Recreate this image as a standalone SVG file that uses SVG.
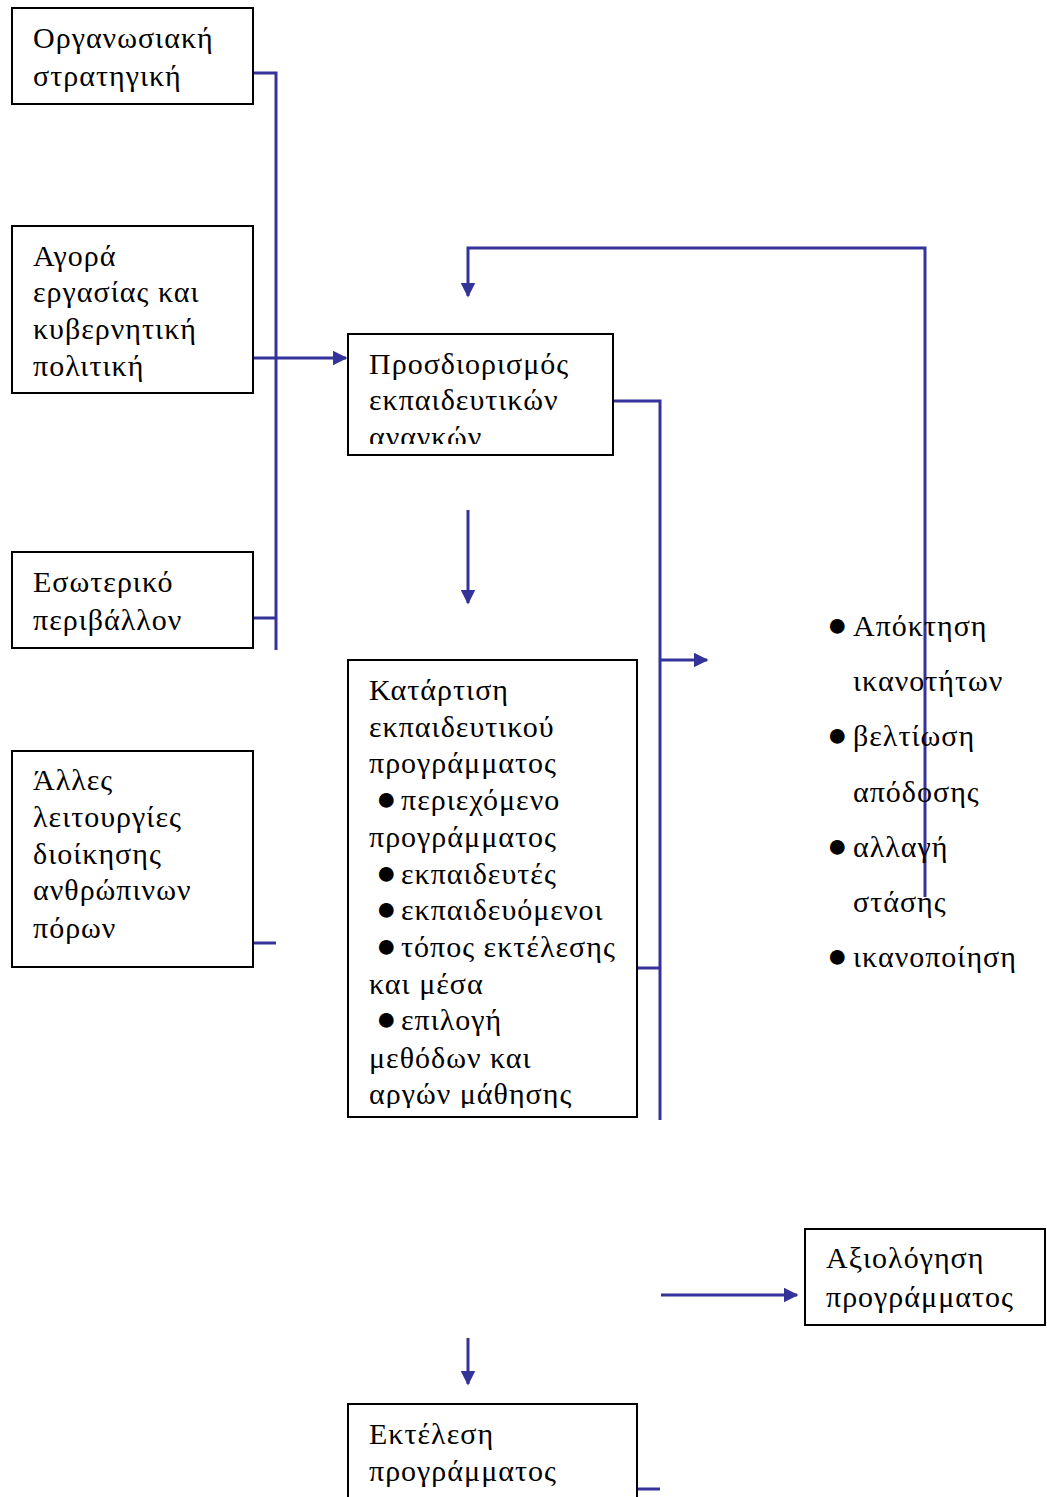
<svg xmlns="http://www.w3.org/2000/svg" width="1047" height="1497" viewBox="0 0 1047 1497">
<style>
.box{fill:#fff;stroke:#000;stroke-width:2}
.t{font-family:"Liberation Serif","Times New Roman",serif;font-size:30px;letter-spacing:1px;fill:#000}
.b{font-size:34px;letter-spacing:0}
.c{fill:none;stroke:#333399;stroke-width:3}
</style>
<defs>
<marker id="a" viewBox="0 0 10 10" refX="9" refY="5" markerWidth="5" markerHeight="5" orient="auto" markerUnits="strokeWidth"><path d="M0,0L10,5L0,10z" fill="#333399"/></marker>
<clipPath id="c5"><rect x="348" y="334" width="266" height="110"/></clipPath>
<clipPath id="c6"><rect x="348" y="660" width="290" height="448"/></clipPath>
</defs>
<rect width="1047" height="1497" fill="#fff"/>
<g id="connectors">
<path class="c" d="M253,73H276V650"/>
<path class="c" d="M253,618H276"/>
<path class="c" d="M253,358H346" marker-end="url(#a)"/>
<path class="c" d="M253,943H276"/>
<path class="c" d="M613,401H660V1120"/>
<path class="c" d="M660,660H707" marker-end="url(#a)"/>
<path class="c" d="M637,968H660"/>
<path class="c" d="M925,897V248H468V296" marker-end="url(#a)"/>
<path class="c" d="M468,510V603" marker-end="url(#a)"/>
<path class="c" d="M661,1295H797" marker-end="url(#a)"/>
<path class="c" d="M468,1338V1384" marker-end="url(#a)"/>
<path class="c" d="M637,1489H660"/>
</g>
<g id="n1"><rect class="box" x="12" y="8" width="241" height="96"/>
<text class="t" x="33" y="48">Οργανωσιακή</text><text class="t" x="33" y="86">στρατηγική</text></g>
<g id="n2"><rect class="box" x="12" y="226" width="241" height="167"/>
<text class="t" x="33" y="266">Αγορά</text><text class="t" x="33" y="302">εργασίας και</text><text class="t" x="33" y="339">κυβερνητική</text><text class="t" x="33" y="376">πολιτική</text></g>
<g id="n3"><rect class="box" x="12" y="552" width="241" height="96"/>
<text class="t" x="33" y="592">Εσωτερικό</text><text class="t" x="33" y="630">περιβάλλον</text></g>
<g id="n4"><rect class="box" x="12" y="751" width="241" height="216"/>
<text class="t" x="33" y="790">Άλλες</text><text class="t" x="33" y="827">λειτουργίες</text><text class="t" x="33" y="864">διοίκησης</text><text class="t" x="33" y="900">ανθρώπινων</text><text class="t" x="33" y="938">πόρων</text></g>
<g id="n5"><rect class="box" x="348" y="334" width="265" height="121"/>
<g clip-path="url(#c5)"><text class="t" x="369" y="374">Προσδιορισμός</text><text class="t" x="369" y="410">εκπαιδευτικών</text><text class="t" x="369" y="447">αναγκών</text></g></g>
<g id="n6"><rect class="box" x="348" y="660" width="289" height="457"/>
<g clip-path="url(#c6)"><text class="t" x="369" y="700">Κατάρτιση</text><text class="t" x="369" y="737">εκπαιδευτικού</text><text class="t" x="369" y="773">προγράμματος</text>
<text class="t" x="376" y="810"><tspan class="b">●</tspan><tspan x="401">περιεχόμενο</tspan></text><text class="t" x="369" y="847">προγράμματος</text>
<text class="t" x="376" y="884"><tspan class="b">●</tspan><tspan x="401">εκπαιδευτές</tspan></text>
<text class="t" x="376" y="920"><tspan class="b">●</tspan><tspan x="401">εκπαιδευόμενοι</tspan></text>
<text class="t" x="376" y="957"><tspan class="b">●</tspan><tspan x="401">τόπος εκτέλεσης</tspan></text><text class="t" x="369" y="994">και μέσα</text>
<text class="t" x="376" y="1030"><tspan class="b">●</tspan><tspan x="401">επιλογή</tspan></text><text class="t" x="369" y="1068">μεθόδων και</text><text class="t" x="369" y="1104">αργών μάθησης</text></g></g>
<g id="n7"><text class="t" x="827" y="636"><tspan class="b">●</tspan><tspan x="853">Απόκτηση</tspan></text><text class="t" x="853" y="691">ικανοτήτων</text>
<text class="t" x="827" y="746"><tspan class="b">●</tspan><tspan x="853">βελτίωση</tspan></text><text class="t" x="853" y="802">απόδοσης</text>
<text class="t" x="827" y="857"><tspan class="b">●</tspan><tspan x="853">αλλαγή</tspan></text><text class="t" x="853" y="912">στάσης</text>
<text class="t" x="827" y="967"><tspan class="b">●</tspan><tspan x="853">ικανοποίηση</tspan></text></g>
<g id="n8"><rect class="box" x="805" y="1229" width="240" height="96"/>
<text class="t" x="826" y="1268">Αξιολόγηση</text><text class="t" x="826" y="1307">προγράμματος</text></g>
<g id="n9"><rect class="box" x="348" y="1404" width="289" height="100"/>
<text class="t" x="369" y="1444">Εκτέλεση</text><text class="t" x="369" y="1481">προγράμματος</text></g>
</svg>
